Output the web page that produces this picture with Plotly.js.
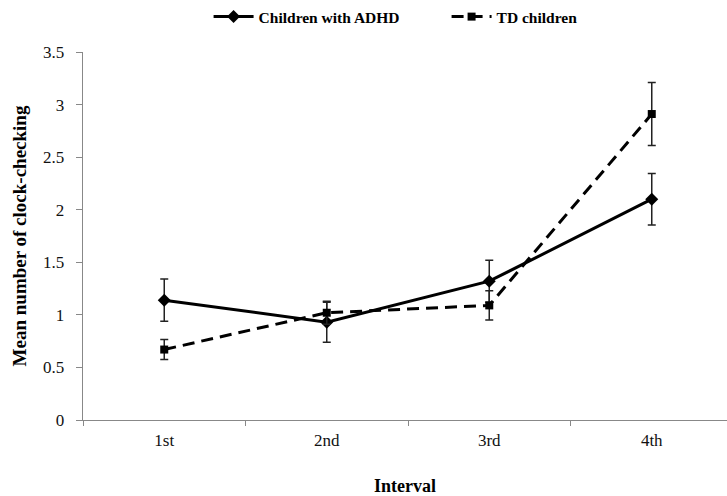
<!DOCTYPE html>
<html><head><meta charset="utf-8">
<script src="https://cdn.plot.ly/plotly-3.0.1.min.js"></script>
<style>html,body{margin:0;padding:0;background:#fff}#chart{width:727px;height:496px}</style>
</head><body><div id="chart"></div>
<script>
const intervals = ["1st", "2nd", "3rd", "4th"];
const adhdMeans = [1.14, 0.93, 1.32, 2.10];
const adhdErr = [0.20, 0.19, 0.20, 0.245];
const tdMeans = [0.67, 1.02, 1.09, 2.91];
const tdErr = [0.095, 0.11, 0.14, 0.30];
const yTicks = [0, 0.5, 1, 1.5, 2, 2.5, 3, 3.5];
const yTickLabels = ["0", "0.5", "1", "1.5", "2", "2.5", "3", "3.5"];

const serif = "Liberation Serif";
const traces = [
  {x: intervals, y: adhdMeans, name: "Children with ADHD", type: "scatter", mode: "lines+markers",
   line: {color: "#000", width: 3}, marker: {symbol: "diamond", size: 10, color: "#000"},
   error_y: {type: "data", array: adhdErr, visible: true, color: "#222", thickness: 1.5, width: 4}},
  {x: intervals, y: tdMeans, name: "TD children", type: "scatter", mode: "lines+markers",
   line: {color: "#000", width: 3, dash: "12px,7px"}, marker: {symbol: "square", size: 8, color: "#000"},
   error_y: {type: "data", array: tdErr, visible: true, color: "#222", thickness: 1.5, width: 4}}
];
const layout = {
  width: 727, height: 496,
  margin: {l: 83, r: 0, t: 52, b: 76},
  paper_bgcolor: "#fff", plot_bgcolor: "#fff",
  font: {family: serif},
  showlegend: true,
  legend: {orientation: "h", x: 0.195, xanchor: "left", y: 1.095, yanchor: "middle", entrywidth: 183,
           font: {family: serif, size: 15.5, color: "#000", weight: "bold"}, itemwidth: 40, tracegroupgap: 0},
  xaxis: {type: "category", range: [-0.5, 3.463], showline: true, linecolor: "#888", linewidth: 1.3,
          ticks: "outside", tickson: "boundaries", ticklen: 5, tickcolor: "#888", showgrid: false, zeroline: false,
          ticklabelstandoff: 4,
          tickfont: {family: serif, size: 17, color: "#111"},
          title: {text: "Interval", font: {family: serif, size: 18, color: "#000", weight: "bold"}, standoff: 34}},
  yaxis: {range: [0, 3.5], tickvals: yTicks, ticktext: yTickLabels, showline: true, linecolor: "#888", linewidth: 1.3,
          ticks: "outside", ticklen: 6, tickcolor: "#888", showgrid: false, zeroline: false,
          ticklabelstandoff: 8,
          tickfont: {family: serif, size: 17, color: "#111"},
          title: {text: "Mean number of clock-checking", font: {family: serif, size: 19, color: "#000", weight: "bold"}, standoff: 11}}
};
Plotly.newPlot("chart", traces, layout, {displayModeBar: false, staticPlot: true});
</script></body></html>
